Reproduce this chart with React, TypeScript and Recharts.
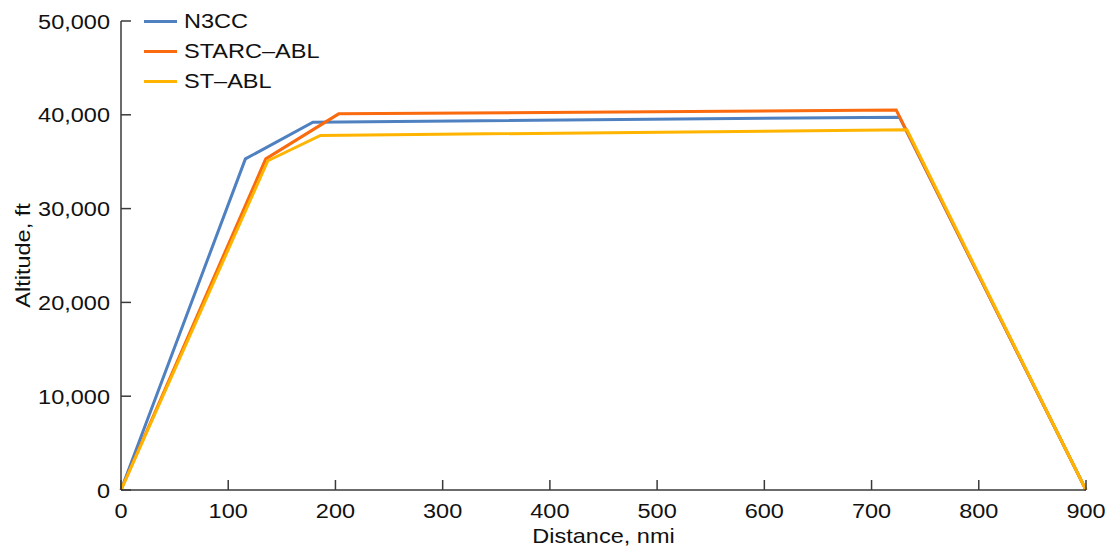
import { LineChart, Line, XAxis, YAxis, Legend } from "recharts";

// flight profiles: distance (nmi) vs altitude (ft)
const n3ccDistance = [0, 116, 179, 726, 900];
const n3ccAltitude = [0, 35300, 39200, 39750, 0];

const starcDistance = [0, 135, 203, 723, 900];
const starcAltitude = [0, 35300, 40100, 40500, 0];

const stAblDistance = [0, 137, 186, 733, 900];
const stAblAltitude = [0, 35100, 37800, 38400, 0];

const xTicks = [0, 100, 200, 300, 400, 500, 600, 700, 800, 900];
const yTicks = [0, 10000, 20000, 30000, 40000, 50000];

const seriesNames = ["N3CC", "STARC\u2013ABL", "ST\u2013ABL"];
const seriesColors = ["#4f81c0", "#fa6a0e", "#ffb400"];

const toRows = (dist: number[], alt: number[]) =>
  dist.map((d, i) => ({ dist: d, alt: alt[i] }));

const n3cc = toRows(n3ccDistance, n3ccAltitude);
const starc = toRows(starcDistance, starcAltitude);
const stAbl = toRows(stAblDistance, stAblAltitude);

const FONT = '"Liberation Sans", Arial, sans-serif';
const FONT_SIZE = 21;
const STRETCH = 1.12;
const AXIS = "#3a3a3a";
const TEXT = "#111";
const TICK_LEN = 10;
const X_MARGIN = 28;
const Y_MARGIN = 11;

const fmt = (v: number) => v.toLocaleString("en-US");

// ticks point into the plot, labels sit outside
const XTick = (props: any) => {
  const { x, y, payload } = props;
  const axisY = y - X_MARGIN;
  return (
    <g>
      <line x1={x} x2={x} y1={axisY} y2={axisY - TICK_LEN} stroke={AXIS} strokeWidth={1.5} />
      <text
        transform={`translate(${x},${y}) scale(${STRETCH},1)`}
        textAnchor="middle"
        fontFamily={FONT}
        fontSize={FONT_SIZE}
        fill={TEXT}
      >
        {payload.value}
      </text>
    </g>
  );
};

const YTick = (props: any) => {
  const { x, y, payload } = props;
  const axisX = x + Y_MARGIN;
  return (
    <g>
      <line x1={axisX} x2={axisX + TICK_LEN} y1={y} y2={y} stroke={AXIS} strokeWidth={1.5} />
      <text
        transform={`translate(${x},${y + 7.5}) scale(${STRETCH},1)`}
        textAnchor="end"
        fontFamily={FONT}
        fontSize={FONT_SIZE}
        fill={TEXT}
      >
        {fmt(payload.value)}
      </text>
    </g>
  );
};

const XTitle = (props: any) => {
  const { viewBox } = props;
  const cx = viewBox.x + viewBox.width / 2;
  return (
    <text
      transform={`translate(${cx},543) scale(${STRETCH},1)`}
      textAnchor="middle"
      fontFamily={FONT}
      fontSize={FONT_SIZE}
      fill={TEXT}
    >
      Distance, nmi
    </text>
  );
};

const YTitle = (props: any) => {
  const { viewBox } = props;
  const cy = viewBox.y + viewBox.height / 2;
  return (
    <text
      transform={`translate(30,${cy}) rotate(-90) scale(${STRETCH},1)`}
      textAnchor="middle"
      fontFamily={FONT}
      fontSize={FONT_SIZE}
      fill={TEXT}
    >
      Altitude, ft
    </text>
  );
};

const LegendBox = () => (
  <div style={{ fontFamily: FONT, fontSize: FONT_SIZE, color: TEXT }}>
    {seriesNames.map((name, i) => (
      <div key={name} style={{ display: "flex", alignItems: "center", height: 30 }}>
        <div style={{ width: 33, height: 3, background: seriesColors[i] }} />
        <span
          style={{
            marginLeft: 7,
            display: "inline-block",
            transform: `scaleX(${STRETCH})`,
            transformOrigin: "left center",
            lineHeight: "30px",
          }}
        >
          {name}
        </span>
      </div>
    ))}
  </div>
);

export default function App() {
  return (
    <div style={{ position: "absolute", left: 0, top: 0, background: "#fff" }}>
      <LineChart width={1109} height={552} margin={{ top: 21, right: 23, bottom: 0, left: 0 }}>
        <XAxis
          type="number"
          dataKey="dist"
          domain={[0, 900]}
          ticks={xTicks}
          interval={0}
          height={62}
          tickSize={0}
          tickMargin={X_MARGIN}
          tickLine={false}
          tick={<XTick />}
          stroke={AXIS}
          strokeWidth={1.5}
          label={<XTitle />}
        />
        <YAxis
          type="number"
          dataKey="alt"
          domain={[0, 50000]}
          ticks={yTicks}
          interval={0}
          width={121}
          tickSize={0}
          tickMargin={Y_MARGIN}
          tickLine={false}
          tick={<YTick />}
          stroke={AXIS}
          strokeWidth={1.5}
          label={<YTitle />}
        />
        <Legend
          layout="horizontal"
          verticalAlign="middle"
          align="center"
          content={<LegendBox />}
          wrapperStyle={{ left: 144, top: 6, width: 220, height: 90 }}
        />
        <Line
          data={n3cc}
          dataKey="alt"
          name={seriesNames[0]}
          type="linear"
          stroke={seriesColors[0]}
          strokeWidth={3}
          dot={false}
          isAnimationActive={false}
        />
        <Line
          data={starc}
          dataKey="alt"
          name={seriesNames[1]}
          type="linear"
          stroke={seriesColors[1]}
          strokeWidth={3}
          dot={false}
          isAnimationActive={false}
        />
        <Line
          data={stAbl}
          dataKey="alt"
          name={seriesNames[2]}
          type="linear"
          stroke={seriesColors[2]}
          strokeWidth={3}
          dot={false}
          isAnimationActive={false}
        />
      </LineChart>
    </div>
  );
}
